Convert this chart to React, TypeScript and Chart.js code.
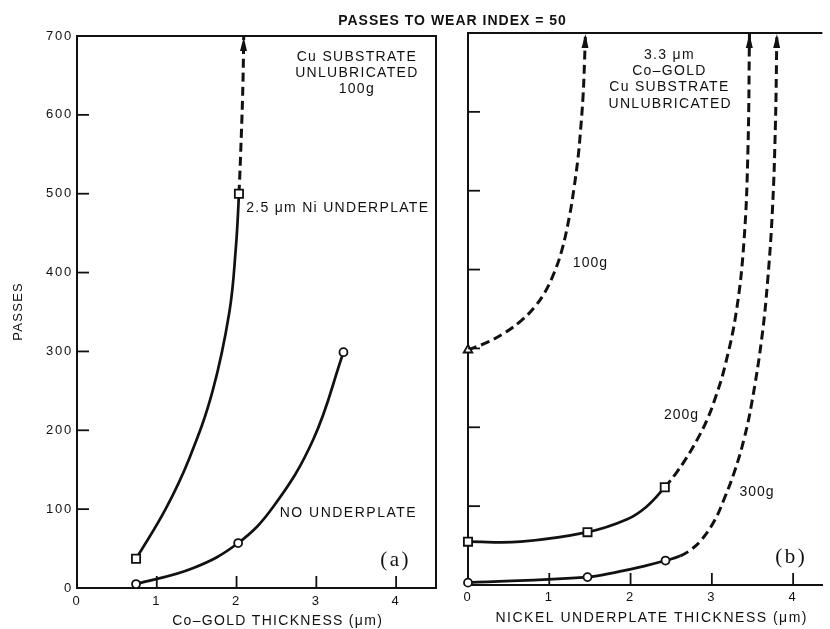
import { useEffect, useRef } from 'react';
import { Chart, registerables } from 'chart.js';

Chart.register(...registerables);

const INK = '#111111';
const SANS = '"Liberation Sans", Arial, Helvetica, sans-serif';
const SERIF = '"Liberation Serif", "Times New Roman", serif';

// ---------- shared axis values ----------
const passesMin = 0;
const passesMax = 700;
const passesStep = 100;
const thicknessStep = 1;

// ---------- panel (a): Co-GOLD thickness ----------
const goldAxisMax = 4.5;
// 2.5 um Ni underplate
const niMarkX = [0.74, 2.03];
const niMarkY = [37, 500];
const niSolidX = [0.74, 1.11, 1.41, 1.7, 1.91, 1.99, 2.03];
const niSolidY = [37, 100, 165, 250, 350, 430, 500];
const niDashX = [2.03, 2.06, 2.08, 2.09];
const niDashY = [500, 575, 640, 700];
// no underplate
const noMarkX = [0.74, 2.02, 3.34];
const noMarkY = [5, 57, 299];
const noLineX = [0.74, 1.45, 2.02, 2.46, 2.96, 3.34];
const noLineY = [5, 25, 57, 103, 188, 299];

// ---------- panel (b): nickel underplate thickness ----------
const nickelAxisMax = 4.36;
// 100g
const g100MarkX = [0];
const g100MarkY = [298];
const g100DashX = [0, 0.241, 0.47, 0.662, 0.807, 0.939, 1.06, 1.156, 1.247, 1.301, 1.355, 1.385, 1.415, 1.433, 1.445];
const g100DashY = [298, 308, 321, 336, 351, 370, 396, 425, 467, 501, 543, 577, 619, 662, 700];
// 200g
const g200MarkX = [0, 1.47, 2.421];
const g200MarkY = [55, 67, 124];
const g200SolidX = [0, 0.65, 1.47, 1.951, 2.192, 2.421];
const g200SolidY = [55, 55, 67, 83, 99, 124];
const g200DashX = [2.421, 2.554, 2.674, 2.818, 2.939, 3.035, 3.155, 3.3, 3.396, 3.444, 3.463];
const g200DashY = [124, 141, 159, 184, 209, 235, 275, 346, 437, 552, 700];
// 300g
const g300MarkX = [0, 1.47, 2.43];
const g300MarkY = [3, 10, 31];
const g300SolidX = [0, 1.47, 1.855, 2.168, 2.43, 2.614];
const g300SolidY = [3, 10, 17, 24, 31, 37];
const g300DashX = [2.614, 2.758, 2.878, 3.035, 3.155, 3.276, 3.396, 3.493, 3.613, 3.685, 3.745, 3.782, 3.8];
const g300DashY = [37, 46, 58, 82, 110, 143, 185, 232, 312, 384, 475, 584, 700];

// ---------- text ----------
const mainTitle = 'PASSES TO WEAR INDEX = 50';
const yTitle = 'PASSES';
const xTitleA = 'Co–GOLD THICKNESS (μm)';
const xTitleB = 'NICKEL UNDERPLATE THICKNESS (μm)';
const noteA = ['Cu SUBSTRATE', 'UNLUBRICATED', '100g'];
const noteB = ['3.3 μm', 'Co–GOLD', 'Cu SUBSTRATE', 'UNLUBRICATED'];

type Txt = {
  t: string;
  x: number;
  y: number;
  px?: boolean;
  font: string;
  align?: CanvasTextAlign;
  ls?: number;
  rot?: number;
};

const pts = (xs: number[], ys: number[]) => xs.map((x, i) => ({ x, y: ys[i] }));

// one continuous curve: solid part followed by dashed part
function curveDs(sx: number[], sy: number[], dx: number[], dy: number[], arrow: boolean): any {
  const solid = pts(sx, sy);
  const dashed = pts(dx, dy);
  const data = solid.length ? solid.concat(dashed.slice(1)) : dashed;
  const dashFrom = solid.length ? solid.length - 1 : 0;
  return {
    data,
    borderColor: INK,
    borderWidth: 2.7,
    borderCapStyle: 'butt',
    pointRadius: 0,
    tension: 0.4,
    fill: false,
    order: 2,
    arrow: arrow && dashed.length > 0,
    segment: {
      borderDash: (c: any) => (c.p0DataIndex >= dashFrom && dashed.length ? [9, 5] : []),
      borderWidth: (c: any) => (c.p0DataIndex >= dashFrom && dashed.length ? 3 : 2.7),
    },
  };
}

function markDs(xs: number[], ys: number[], style: string, r: number): any {
  return {
    data: pts(xs, ys),
    showLine: false,
    pointStyle: style,
    pointRadius: r,
    pointBackgroundColor: '#ffffff',
    pointBorderColor: INK,
    pointBorderWidth: 1.8,
    clip: false,
    order: 0,
  };
}

function decor(id: string, texts: Txt[], rightBorder: boolean) {
  return {
    id,
    beforeDraw(chart: any) {
      chart.ctx.letterSpacing = '1.8px';
    },
    afterDraw(chart: any) {
      const { ctx, chartArea: ca, scales } = chart;
      const xs = scales.x;
      const ys = scales.y;
      ctx.save();
      ctx.strokeStyle = INK;
      ctx.fillStyle = INK;
      ctx.lineWidth = 2;
      ctx.beginPath();
      ctx.moveTo(ca.left - 1, ca.top);
      ctx.lineTo(ca.right, ca.top);
      if (rightBorder) ctx.lineTo(ca.right, ca.bottom + 1);
      ctx.stroke();
      // inward tick marks
      ctx.lineWidth = 1.8;
      ys.ticks.forEach((tk: any) => {
        if (tk.value > ys.min && tk.value < ys.max) {
          const p = ys.getPixelForValue(tk.value);
          ctx.beginPath();
          ctx.moveTo(ca.left, p);
          ctx.lineTo(ca.left + 12, p);
          ctx.stroke();
        }
      });
      xs.ticks.forEach((tk: any) => {
        if (tk.value > xs.min && tk.value < xs.max) {
          const p = xs.getPixelForValue(tk.value);
          ctx.beginPath();
          ctx.moveTo(p, ca.bottom);
          ctx.lineTo(p, ca.bottom - 12);
          ctx.stroke();
        }
      });
      // arrowheads on the dashed ends
      chart.data.datasets.forEach((ds: any, i: number) => {
        if (!ds.arrow) return;
        const meta = chart.getDatasetMeta(i);
        const el = meta.data[meta.data.length - 1];
        const prev = meta.data[meta.data.length - 2];
        const dx = el.x - prev.x;
        const dy = el.y - prev.y;
        const len = Math.hypot(dx, dy) || 1;
        const ux = dx / len;
        const uy = dy / len;
        const tipX = el.x;
        const tipY = el.y + 1;
        const bx = tipX - ux * 14;
        const by = tipY - uy * 14;
        ctx.beginPath();
        ctx.moveTo(tipX, tipY);
        ctx.lineTo(bx - uy * 3.5, by + ux * 3.5);
        ctx.lineTo(bx + uy * 3.5, by - ux * 3.5);
        ctx.closePath();
        ctx.fill();
      });
      // text
      ctx.textBaseline = 'middle';
      texts.forEach((tx) => {
        const x = tx.px ? tx.x : xs.getPixelForValue(tx.x);
        const y = tx.px ? tx.y : ys.getPixelForValue(tx.y);
        ctx.save();
        ctx.font = tx.font;
        (ctx as any).letterSpacing = (tx.ls ?? 0) + 'px';
        ctx.textAlign = tx.align ?? 'left';
        ctx.translate(x, y);
        if (tx.rot) ctx.rotate(tx.rot);
        const shift = tx.align === 'center' ? (tx.ls ?? 0) / 2 : 0;
        ctx.fillText(tx.t, shift, 0);
        ctx.restore();
      });
      ctx.restore();
    },
  };
}

const noteFont = `14px ${SANS}`;

const textsA: Txt[] = [
  { t: noteA[0], x: 3.5, y: 673, font: noteFont, align: 'center', ls: 1.3 },
  { t: noteA[1], x: 3.5, y: 653, font: noteFont, align: 'center', ls: 1.3 },
  { t: noteA[2], x: 3.5, y: 632, font: noteFont, align: 'center', ls: 1.3 },
  { t: '2.5 μm Ni UNDERPLATE', x: 2.12, y: 482, font: noteFont, ls: 1.3 },
  { t: 'NO UNDERPLATE', x: 2.54, y: 95, font: noteFont, ls: 1.5 },
  { t: '(a)', x: 3.8, y: 35.5, font: `21px ${SERIF}`, ls: 2.5 },
  { t: yTitle, x: 18, y: 312, px: true, font: `13px ${SANS}`, align: 'center', ls: 1.3, rot: -Math.PI / 2 },
  { t: xTitleA, x: 277, y: 621, px: true, font: `14px ${SANS}`, align: 'center', ls: 1.3 },
];

const textsB: Txt[] = [
  { t: noteB[0], x: 2.47, y: 672, font: noteFont, align: 'center', ls: 1.3 },
  { t: noteB[1], x: 2.47, y: 652, font: noteFont, align: 'center', ls: 1.3 },
  { t: noteB[2], x: 2.47, y: 631.5, font: noteFont, align: 'center', ls: 1.3 },
  { t: noteB[3], x: 2.48, y: 610, font: noteFont, align: 'center', ls: 1.3 },
  { t: '100g', x: 1.29, y: 408, font: noteFont, ls: 1 },
  { t: '200g', x: 2.41, y: 216, font: noteFont, ls: 1 },
  { t: '300g', x: 3.34, y: 118, font: noteFont, ls: 1 },
  { t: '(b)', x: 3.78, y: 35.5, font: `21px ${SERIF}`, ls: 2.5 },
  { t: mainTitle, x: 452, y: 21, px: true, font: `bold 14px ${SANS}`, align: 'center', ls: 1 },
  { t: xTitleB, x: 651, y: 618, px: true, font: `14px ${SANS}`, align: 'center', ls: 1.5 },
];

function axes(xMax: number, yWidth: number, xHeight: number, yLabels: boolean, xPad: number): any {
  return {
    x: {
      type: 'linear',
      min: 0,
      max: xMax,
      afterFit: (s: any) => {
        s.height = xHeight;
      },
      grid: { display: false, drawTicks: false },
      border: { display: true, color: INK, width: 2 },
      ticks: {
        stepSize: thicknessStep,
        includeBounds: false,
        color: INK,
        padding: xPad,
        font: { family: SANS, size: 13 },
      },
    },
    y: {
      type: 'linear',
      min: passesMin,
      max: passesMax,
      afterFit: (s: any) => {
        s.width = yWidth;
      },
      grid: { display: false, drawTicks: false },
      border: { display: true, color: INK, width: 2 },
      ticks: {
        stepSize: passesStep,
        display: yLabels,
        color: INK,
        padding: 4,
        font: { family: SANS, size: 13 },
      },
    },
  };
}

const baseOpts = {
  responsive: false,
  animation: false,
  events: [],
  plugins: { legend: { display: false }, tooltip: { enabled: false }, title: { display: false } },
};

export default function App() {
  const refA = useRef<HTMLCanvasElement>(null);
  const refB = useRef<HTMLCanvasElement>(null);

  useEffect(() => {
    const chartA = new Chart(refA.current!, {
      type: 'line',
      data: {
        datasets: [
          markDs(niMarkX, niMarkY, 'rect', 5.8),
          markDs(noMarkX, noMarkY, 'circle', 4),
          curveDs(niSolidX, niSolidY, niDashX, niDashY, true),
          curveDs(noLineX, noLineY, [], [], false),
        ],
      },
      options: {
        ...baseOpts,
        layout: { padding: { left: 0, right: 394, top: 36, bottom: 0 } },
        scales: axes(goldAxisMax, 77, 41, true, 6),
      } as any,
      plugins: [decor('decorA', textsA, true)],
    });
    const chartB = new Chart(refB.current!, {
      type: 'line',
      data: {
        datasets: [
          markDs(g100MarkX, g100MarkY, 'triangle', 5),
          markDs(g200MarkX, g200MarkY, 'rect', 5.8),
          markDs(g300MarkX, g300MarkY, 'circle', 4),
          curveDs([], [], g100DashX, g100DashY, true),
          curveDs(g200SolidX, g200SolidY, g200DashX, g200DashY, true),
          curveDs(g300SolidX, g300SolidY, g300DashX, g300DashY, true),
        ],
      },
      options: {
        ...baseOpts,
        layout: { padding: { left: 0, right: 0, top: 33, bottom: 0 } },
        scales: axes(nickelAxisMax, 468, 44, false, 5),
      } as any,
      plugins: [decor('decorB', textsB, false)],
    });
    return () => {
      chartA.destroy();
      chartB.destroy();
    };
  }, []);

  const cv: any = { position: 'absolute', left: 0, top: 0, width: 830, height: 629 };
  return (
    <div style={{ position: 'fixed', left: 0, top: 0, width: 830, height: 629, background: '#ffffff' }}>
      <canvas ref={refA} width={830} height={629} style={cv} />
      <canvas ref={refB} width={830} height={629} style={cv} />
    </div>
  );
}
